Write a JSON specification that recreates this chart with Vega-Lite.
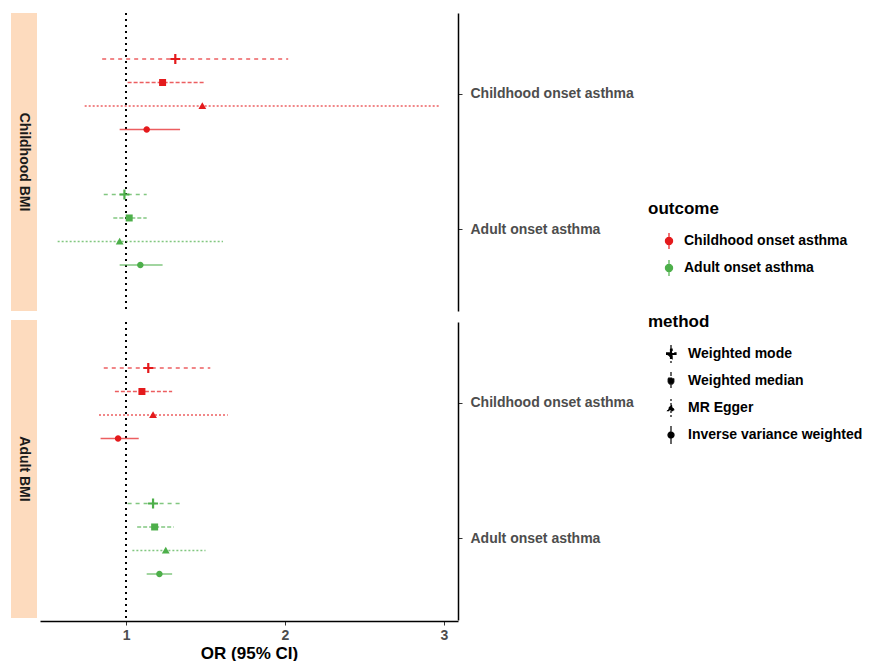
{
  "$schema": "https://vega.github.io/schema/vega-lite/v6.json",
  "padding": {"left": 11, "top": 12, "right": 0, "bottom": 0},
  "background": "white",
  "spacing": 3,
  "config": {
    "view": {"stroke": null},
    "font": "Liberation Sans",
    "legend": {
      "titleFontSize": 17, "titleFontWeight": "bold", "titleColor": "black",
      "labelFontSize": 14, "labelFontWeight": "bold", "labelColor": "black", "labelLimit": 300,
      "symbolOffset": 12, "labelOffset": 6, "titlePadding": 12, "symbolOpacity": 1
    }
  },
  "datasets": {
    "est": [
      {"exposure": "Childhood BMI", "outcome": "Childhood onset asthma", "method": "Weighted mode", "or": 1.31, "lo": 0.85, "hi": 2.02},
      {"exposure": "Childhood BMI", "outcome": "Childhood onset asthma", "method": "Weighted median", "or": 1.23, "lo": 1.01, "hi": 1.49},
      {"exposure": "Childhood BMI", "outcome": "Childhood onset asthma", "method": "MR Egger", "or": 1.48, "lo": 0.74, "hi": 2.97},
      {"exposure": "Childhood BMI", "outcome": "Childhood onset asthma", "method": "Inverse variance weighted", "or": 1.13, "lo": 0.96, "hi": 1.34},
      {"exposure": "Childhood BMI", "outcome": "Adult onset asthma", "method": "Weighted mode", "or": 0.99, "lo": 0.86, "hi": 1.13},
      {"exposure": "Childhood BMI", "outcome": "Adult onset asthma", "method": "Weighted median", "or": 1.02, "lo": 0.92, "hi": 1.13},
      {"exposure": "Childhood BMI", "outcome": "Adult onset asthma", "method": "MR Egger", "or": 0.96, "lo": 0.57, "hi": 1.61},
      {"exposure": "Childhood BMI", "outcome": "Adult onset asthma", "method": "Inverse variance weighted", "or": 1.09, "lo": 0.96, "hi": 1.23},
      {"exposure": "Adult BMI", "outcome": "Childhood onset asthma", "method": "Weighted mode", "or": 1.14, "lo": 0.86, "hi": 1.53},
      {"exposure": "Adult BMI", "outcome": "Childhood onset asthma", "method": "Weighted median", "or": 1.10, "lo": 0.93, "hi": 1.29},
      {"exposure": "Adult BMI", "outcome": "Childhood onset asthma", "method": "MR Egger", "or": 1.17, "lo": 0.83, "hi": 1.64},
      {"exposure": "Adult BMI", "outcome": "Childhood onset asthma", "method": "Inverse variance weighted", "or": 0.95, "lo": 0.84, "hi": 1.08},
      {"exposure": "Adult BMI", "outcome": "Adult onset asthma", "method": "Weighted mode", "or": 1.17, "lo": 1.01, "hi": 1.36},
      {"exposure": "Adult BMI", "outcome": "Adult onset asthma", "method": "Weighted median", "or": 1.18, "lo": 1.07, "hi": 1.30},
      {"exposure": "Adult BMI", "outcome": "Adult onset asthma", "method": "MR Egger", "or": 1.25, "lo": 1.04, "hi": 1.50},
      {"exposure": "Adult BMI", "outcome": "Adult onset asthma", "method": "Inverse variance weighted", "or": 1.21, "lo": 1.13, "hi": 1.29}
    ],
    "strips": [
      {"exposure": "Childhood BMI"},
      {"exposure": "Adult BMI"}
    ]
  },
  "hconcat": [
    {
      "data": {"name": "strips"},
      "facet": {"row": {"field": "exposure", "type": "nominal", "sort": ["Childhood BMI", "Adult BMI"], "header": null}},
      "spacing": 9,
      "spec": {
        "width": 26,
        "height": 298,
        "view": {"fill": "#FDDBBE", "stroke": null},
        "mark": {"type": "text", "angle": 90, "fontSize": 14, "fontWeight": "bold", "color": "#1A1A1A", "align": "center", "baseline": "middle"},
        "encoding": {"text": {"field": "exposure", "type": "nominal"}}
      }
    },
    {
      "data": {"name": "est"},
      "facet": {"row": {"field": "exposure", "type": "nominal", "sort": ["Childhood BMI", "Adult BMI"], "header": null}},
      "spacing": 9,
      "spec": {
        "width": 418,
        "height": 298,
        "encoding": {
          "y": {
            "field": "outcome", "type": "nominal",
            "sort": ["Childhood onset asthma", "Adult onset asthma"],
            "scale": {"paddingInner": 0.306, "paddingOuter": 0.253},
            "axis": {
              "orient": "right", "title": null, "domainColor": "black", "domainWidth": 1.5,
              "tickColor": "#333333", "tickSize": 4, "labelPadding": 8,
              "labelFontSize": 14, "labelFontWeight": "bold", "labelColor": "#4D4D4D", "labelLimit": 300
            }
          },
          "yOffset": {
            "field": "method", "type": "nominal",
            "sort": ["Weighted mode", "Weighted median", "MR Egger", "Inverse variance weighted"],
            "scale": {"paddingInner": 0, "paddingOuter": 0}
          },
          "color": {
            "field": "outcome", "type": "nominal",
            "scale": {"domain": ["Childhood onset asthma", "Adult onset asthma"], "range": ["#E41A1C", "#4DAF4A"]},
            "legend": {
              "title": "outcome", "orient": "none", "legendX": 637, "legendY": 188,
              "symbolType": "M0,-1V1M0.45,0A0.45,0.45,0,1,1,-0.45,0A0.45,0.45,0,1,1,0.45,0",
              "symbolSize": 256, "rowPadding": 5, "titlePadding": 14,
              "encode": {
                "symbols": {
                  "update": {
                    "stroke": {"scale": "color", "field": "value"},
                    "strokeWidth": {"value": 1.2},
                    "shape": {"value": "M0,-1V1M0.45,0A0.45,0.45,0,1,1,-0.45,0A0.45,0.45,0,1,1,0.45,0"}
                  }
                }
              }
            }
          }
        },
        "layer": [
          {
            "mark": {"type": "rule", "color": "black", "strokeDash": [2, 4], "strokeWidth": 1.5},
            "encoding": {
              "x": {"datum": 1, "type": "quantitative"},
              "y": null, "yOffset": null, "color": null
            }
          },
          {
            "mark": {"type": "rule", "strokeWidth": 1.5, "opacity": 0.7},
            "encoding": {
              "x": {
                "field": "lo", "type": "quantitative",
                "scale": {"domain": [0.459, 3.088], "nice": false, "zero": false},
                "axis": {
                  "title": "OR (95% CI)", "values": [1, 2, 3], "format": "d", "grid": false,
                  "domainColor": "black", "domainWidth": 1.5, "tickColor": "#333333", "tickSize": 4,
                  "labelFontSize": 14, "labelFontWeight": "bold", "labelColor": "#4D4D4D", "labelPadding": 3,
                  "titleFontSize": 17, "titleFontWeight": "bold", "titleColor": "black", "titlePadding": 3
                }
              },
              "x2": {"field": "hi"},
              "strokeDash": {
                "field": "method", "type": "nominal",
                "scale": {"domain": ["Weighted mode", "Weighted median", "MR Egger", "Inverse variance weighted"], "range": [[4, 4], [4, 2], [2, 2], [1, 0]]},
                "legend": {
                  "title": "method", "orient": "none", "legendX": 637, "legendY": 301,
                  "symbolFillColor": "black", "symbolStrokeColor": "black", "symbolSize": 400, "rowPadding": 3,
                  "symbolType": "M0,-0.9V0.9",
                  "encode": {
                    "symbols": {
                      "update": {
                        "fill": {"value": "black"},
                        "stroke": {"value": "black"},
                        "opacity": {"value": 1},
                        "strokeWidth": {"value": 1.2},
                        "shape": {"signal": "datum.value === 'Weighted mode' ? 'M0,-0.9V0.9M-0.5,-0.11H-0.11V-0.5H0.11V-0.11H0.5V0.11H0.11V0.5H-0.11V0.11H-0.5Z' : datum.value === 'Weighted median' ? 'M0,-0.9V0.9M-0.28,-0.28H0.28V0.28H-0.28Z' : datum.value === 'MR Egger' ? 'M0,-0.9V0.9M0,-0.32L0.34,0.26H-0.34Z' : 'M0,-0.9V0.9M0.3,0A0.3,0.3,0,1,1,-0.3,0A0.3,0.3,0,1,1,0.3,0'"}
                      }
                    }
                  }
                }
              }
            }
          },
          {
            "mark": {"type": "point", "filled": true, "opacity": 1, "size": 100},
            "encoding": {
              "x": {"field": "or", "type": "quantitative"},
              "shape": {
                "field": "method", "type": "nominal",
                "scale": {
                  "domain": ["Inverse variance weighted", "MR Egger", "Weighted median", "Weighted mode"],
                  "range": [
                    "M0.65,0A0.65,0.65,0,1,1,-0.65,0A0.65,0.65,0,1,1,0.65,0",
                    "M0,-0.75L0.78,0.6H-0.78Z",
                    "M-0.7,-0.7H0.7V0.7H-0.7Z",
                    "M-1,-0.22H-0.22V-1H0.22V-0.22H1V0.22H0.22V1H-0.22V0.22H-1Z"
                  ]
                },
                "legend": null
              }
            }
          }
        ]
      }
    }
  ],
  "resolve": {"scale": {"color": "shared", "shape": "shared", "strokeDash": "shared"}}
}
